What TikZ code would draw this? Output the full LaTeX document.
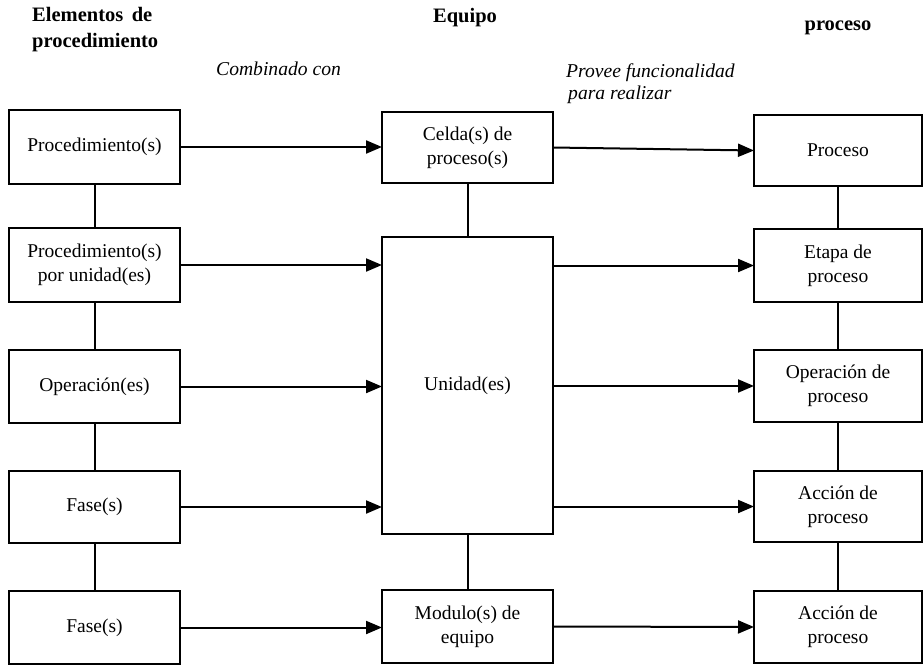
\documentclass[tikz,border=0pt]{standalone}
\usepackage{fontspec}
\setmainfont{Liberation Serif}
\usetikzlibrary{arrows.meta}
\begin{document}
\begin{tikzpicture}[x=1pt,y=-1pt,
  every node/.style={font=\fontsize{19.5}{24}\selectfont},
  blk/.style={draw,line width=2pt,inner sep=0pt,outer sep=0pt,align=center,
    minimum width=171pt,minimum height=73pt},
  rblk/.style={blk,minimum width=168pt},
  head/.style={font=\fontsize{20.5}{26}\selectfont\bfseries,inner sep=0pt},
  note/.style={font=\fontsize{19.6}{22}\selectfont\itshape,inner sep=0pt,align=left},
  link/.style={line width=2pt},
  flow/.style={line width=2pt,-{Triangle[length=16pt,width=13pt]}}]
\useasboundingbox (0,0) rectangle (923,666);

% column headers and captions (base anchor = baseline of the last line)
\node[head,anchor=base west,align=left] (hproc) at (32,48) {Elementos\, de\\procedimiento};
\node[head,anchor=base] (hequ) at (465,23) {Equipo};
\node[head,anchor=base] (hpro) at (838,31) {proceso};
\node[note,anchor=base west] (ncomb) at (216,76) {Combinado con};
\node[note,anchor=base west,align=left] (nprov) at (566,100) {Provee funcionalidad\\\hspace{2pt}para realizar};

% procedural elements
\node[blk] (l1) at (94.5,147)   {Procedimiento(s)};
\node[blk,minimum height=74pt] (l2) at (94.5,265) {Procedimiento(s)\\por unidad(es)};
\node[blk] (l3) at (94.5,386.5) {Operación(es)};
\node[blk,minimum height=72pt] (l4) at (94.5,507) {Fase(s)};
\node[blk] (l5) at (94.5,627.5) {Fase(s)};

% equipment
\node[blk,minimum height=71pt] (m1) at (467.5,147.5) {Celda(s) de\\proceso(s)};
\node[blk,minimum height=297pt] (m2) at (467.5,385.5) {Unidad(es)};
\node[blk] (m3) at (467.5,626.5) {Modulo(s) de\\equipo};

% process model
\node[rblk,minimum height=71pt] (r1) at (838,150.5) {Proceso};
\node[rblk] (r2) at (838,265.5) {Etapa de\\proceso};
\node[rblk,minimum height=72pt] (r3) at (838,386) {Operación de\\proceso};
\node[rblk,minimum height=71pt] (r4) at (838,506.5) {Acción de\\proceso};
\node[rblk,minimum height=72pt] (r5) at (838,627) {Acción de\\proceso};

% hierarchy links
\draw[link] (l1) -- (l2);
\draw[link] (l2) -- (l3);
\draw[link] (l3) -- (l4);
\draw[link] (l4) -- (l5);
\draw[link] (m1) -- (m2);
\draw[link] (m2) -- (m3);
\draw[link] (r1) -- (r2);
\draw[link] (r2) -- (r3);
\draw[link] (r3) -- (r4);
\draw[link] (r4) -- (r5);

% "combined with"
\draw[flow] (l1.east) -- (l1.east -| m1.west);
\draw[flow] (l2.east) -- (l2.east -| m2.west);
\draw[flow] (l3.east) -- (l3.east -| m2.west);
\draw[flow] (l4.east) -- (l4.east -| m2.west);
\draw[flow] (l5.east) -- (l5.east -| m3.west);

% "provides functionality to carry out"
\draw[flow] (m1.east) -- (r1.west);
\draw[flow] (r2.west -| m2.east) -- (r2.west);
\draw[flow] (r3.west -| m2.east) -- (r3.west);
\draw[flow] (r4.west -| m2.east) -- (r4.west);
\draw[flow] (m3.east) -- (r5.west);
\end{tikzpicture}
\end{document}
